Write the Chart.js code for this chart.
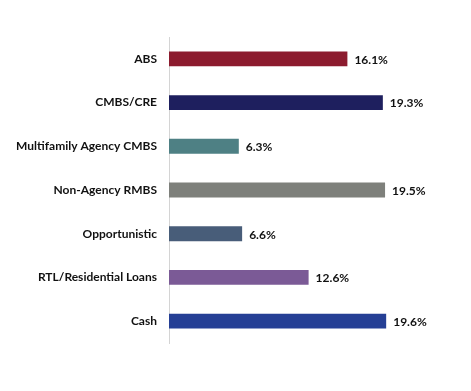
<!DOCTYPE html>
<html>
<head>
<meta charset="utf-8">
<script src="https://cdn.jsdelivr.net/npm/chart.js@4"></script>
<style>
html,body{margin:0;padding:0;background:#fff;}
#wrap{width:471px;height:391px;position:relative;}
</style>
</head>
<body>
<div id="wrap"><canvas id="c" width="471" height="391"></canvas></div>
<script>
const categories = ["ABS","CMBS/CRE","Multifamily Agency CMBS","Non-Agency RMBS","Opportunistic","RTL/Residential Loans","Cash"];
const values = [16.1, 19.3, 6.3, 19.5, 6.6, 12.6, 19.6];
const barColors = ["#8C1B2E","#1E1F5E","#4E8084","#7E807B","#485D79","#7B5A96","#253F95"];

const valueLabels = {
  id: 'valueLabels',
  afterDatasetsDraw(chart) {
    const ctx = chart.ctx;
    const meta = chart.getDatasetMeta(0);
    ctx.save();
    ctx.font = 'bold 12px Lato, "Open Sans", sans-serif';
    ctx.fillStyle = '#111111';
    ctx.textAlign = 'left';
    ctx.textBaseline = 'middle';
    meta.data.forEach((bar, i) => {
      ctx.fillText(values[i].toFixed(1) + '%', bar.x + 7, bar.y + 1);
    });
    ctx.restore();
  }
};

new Chart(document.getElementById('c'), {
  type: 'bar',
  data: {
    labels: categories,
    datasets: [{
      data: values,
      backgroundColor: barColors,
      borderWidth: 0,
      barPercentage: 0.68,
      categoryPercentage: 0.5
    }]
  },
  options: {
    indexAxis: 'y',
    responsive: false,
    animation: false,
    devicePixelRatio: 1,
    layout: { padding: { top: 37, bottom: 48, left: 0, right: 25 } },
    plugins: { legend: { display: false }, tooltip: { enabled: false } },
    scales: {
      x: { display: false, min: 0, max: 25 },
      y: {
        afterFit(scale) { scale.width = 169; },
        grid: { display: false, drawTicks: false },
        border: { display: true, color: '#d4d4d4', width: 1 },
        ticks: {
          padding: 12,
          color: '#111111',
          font: { family: 'Lato, "Open Sans", sans-serif', size: 12, weight: 'bold' }
        }
      }
    }
  },
  plugins: [valueLabels]
});
</script>
</body>
</html>
